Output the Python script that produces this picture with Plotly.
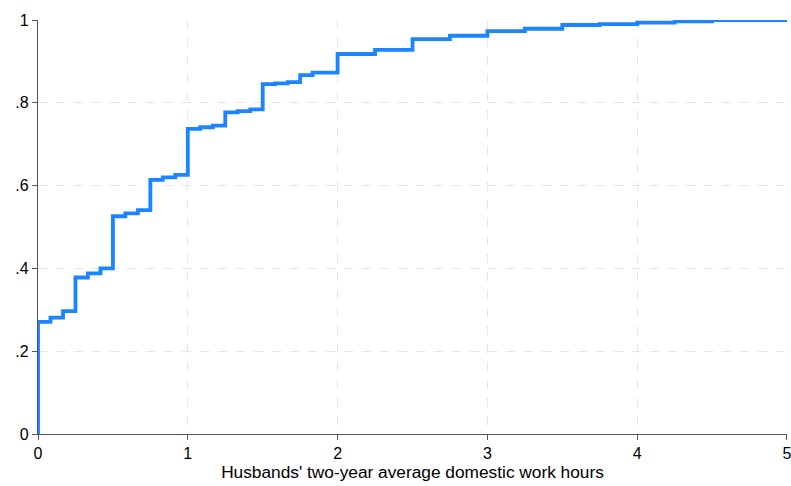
import plotly.graph_objects as go

hours = [0, 0, 0.083, 0.167, 0.25, 0.333, 0.417, 0.5, 0.583, 0.667, 0.75, 0.833, 0.917,
         1.0, 1.083, 1.167, 1.25, 1.333, 1.417, 1.5, 1.583, 1.667, 1.75, 1.833, 2.0,
         2.25, 2.5, 2.75, 3.0, 3.25, 3.5, 3.75, 4.0, 4.25, 4.5, 5.0]
cdf = [0, 0.271, 0.281, 0.297, 0.378, 0.388, 0.400, 0.526, 0.533, 0.541, 0.614, 0.620, 0.626,
       0.737, 0.741, 0.745, 0.777, 0.780, 0.784, 0.845, 0.847, 0.850, 0.867, 0.873, 0.918,
       0.928, 0.954, 0.962, 0.973, 0.979, 0.988, 0.990, 0.994, 0.997, 1.0, 1.0]

x_ticks = [0, 1, 2, 3, 4, 5]
x_tick_labels = ["0", "1", "2", "3", "4", "5"]
y_ticks = [0, 0.2, 0.4, 0.6, 0.8, 1]
y_tick_labels = ["0", ".2", ".4", ".6", ".8", "1"]

fig = go.Figure()
fig.add_trace(go.Scatter(x=hours, y=cdf, mode="lines",
                         line=dict(color="#1A85FF", width=3.8, shape="hv"),
                         cliponaxis=False, showlegend=False, hoverinfo="skip"))

font = dict(family="Liberation Sans, Arial, sans-serif", size=16, color="#000000")
fig.update_layout(
    width=791, height=486,
    margin=dict(l=38, r=4, t=20, b=52),
    paper_bgcolor="white", plot_bgcolor="white",
    font=font,
    xaxis=dict(range=[-0.0001, 5.0001], tickvals=x_ticks, ticktext=x_tick_labels,
               automargin=False, ticklabeloverflow="allow",
               showline=True, linecolor="#555555", linewidth=1.2,
               ticks="outside", ticklen=5, tickcolor="#555555",
               showgrid=True, gridcolor="#e6e6e6", griddash="dash", gridwidth=1.2,
               zeroline=False,
               title=dict(text="Husbands' two-year average domestic work hours",
                          font=dict(size=17.3), standoff=2)),
    yaxis=dict(range=[0, 1.0001], tickvals=y_ticks, ticktext=y_tick_labels,
               automargin=False,
               showline=True, linecolor="#555555", linewidth=1.2,
               ticks="outside", ticklen=5, tickcolor="#555555",
               showgrid=True, gridcolor="#e6e6e6", griddash="dash", gridwidth=1.2,
               zeroline=False),
)
fig.write_html("out.html", config={"displayModeBar": False},
               post_script="document.body.style.margin='0';document.body.style.overflow='hidden';")
